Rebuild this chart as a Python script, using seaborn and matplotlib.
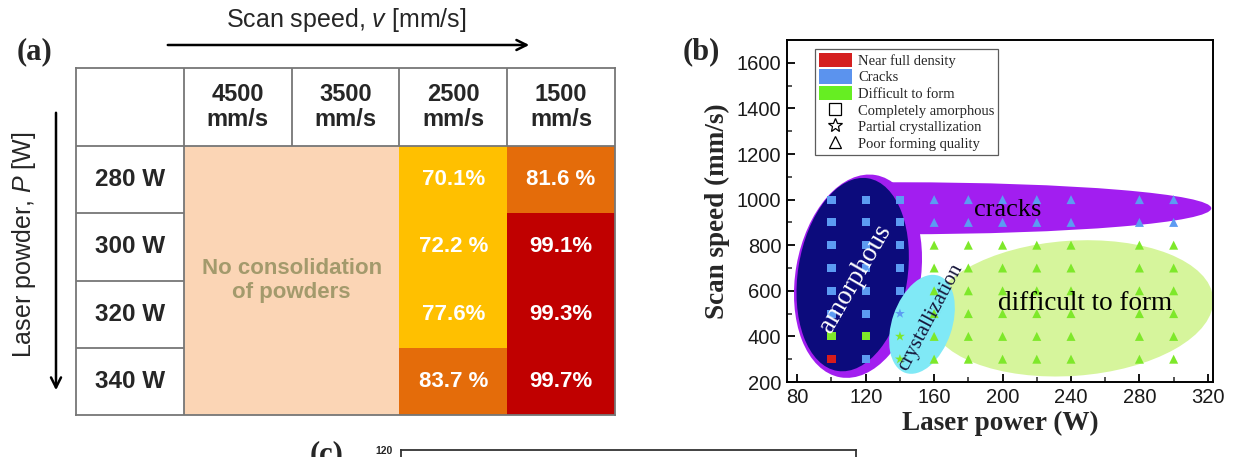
import numpy as np
import pandas as pd
import matplotlib
matplotlib.use("Agg")
import matplotlib.pyplot as plt
import seaborn as sns
from matplotlib.colors import ListedColormap, BoundaryNorm
from matplotlib.patches import Ellipse, Rectangle, Patch, FancyArrowPatch
from matplotlib.lines import Line2D
from matplotlib.transforms import Affine2D

# ---------------- data: panel (a) relative density table ----------------
laser_power = ["280 W", "300 W", "320 W", "340 W"]
scan_speed = ["4500\nmm/s", "3500\nmm/s", "2500\nmm/s", "1500\nmm/s"]
density_4500 = [np.nan, np.nan, np.nan, np.nan]
density_3500 = [np.nan, np.nan, np.nan, np.nan]
density_2500 = [70.1, 72.2, 77.6, 83.7]
density_1500 = [81.6, 99.1, 99.3, 99.7]
gap_2500 = ["", " ", "", " "]
gap_1500 = [" ", "", "", ""]
no_consolidation_text = "No consolidation\nof powders"

# ---------------- data: panel (b) process map ----------------
powers = [100, 120, 140, 160, 180, 200, 220, 240, 280, 300]
speeds = [1000, 900, 800, 700, 600, 500, 400, 300]
# outcome per speed (top to bottom): C = cracks, D = difficult to form, N = near full density
outcome_100 = "CCCCCCDN"
outcome_120 = "CCCCCCDC"
outcome_140 = "CCCCCCDD"
outcome_high = "CCDDDDDD"
# phase per speed: A = completely amorphous, P = partial crystallization, T = poor forming quality
phase_low = "AAAAAAAA"
phase_140 = "AAAAAPPP"
phase_high = "TTTTTTTT"

outcome_cols = [outcome_100, outcome_120, outcome_140] + [outcome_high] * 7
phase_cols = [phase_low, phase_low, phase_140] + [phase_high] * 7

rows = []
for p, oc, ph in zip(powers, outcome_cols, phase_cols):
    for s, o, f in zip(speeds, oc, ph):
        rows.append({"power": p, "speed": s, "outcome": o, "phase": f})
points = pd.DataFrame(rows)

# ---------------- style ----------------
sns.set_style("white")
plt.rcParams["font.family"] = ["Liberation Sans", "DejaVu Sans"]
plt.rcParams["mathtext.fontset"] = "custom"
plt.rcParams["mathtext.rm"] = "Liberation Sans"
plt.rcParams["mathtext.it"] = "Liberation Sans:italic"
plt.rcParams["mathtext.bf"] = "Liberation Sans:bold"

W, H = 1235, 457
fig = plt.figure(figsize=(W / 100, H / 100), dpi=100)
fig.patch.set_facecolor("white")


def fx(x):
    return x / W


def fy(y):
    return 1 - y / H


def box(left, top, right, bottom):
    return [fx(left), fy(bottom), fx(right) - fx(left), fy(top) - fy(bottom)]


SERIF = "Liberation Serif"
GOLD, ORANGE, RED, PEACH = "#ffc000", "#e46c0a", "#c00000", "#fbd5b5"
LINE = "#767676"

# ======================= panel (a) =======================
ax_a = fig.add_axes(box(76, 68, 615, 415))
grid = pd.DataFrame(
    {"": [np.nan] * 4, "4500": density_4500, "3500": density_3500,
     "2500": density_2500, "1500": density_1500},
    index=laser_power,
)
labels = grid.copy().astype(object)
labels[:] = ""
labels["2500"] = [f"{v:.1f}{g}%" for v, g in zip(density_2500, gap_2500)]
labels["1500"] = [f"{v:.1f}{g}%" for v, g in zip(density_1500, gap_1500)]

# unconsolidated cells
unconsolidated = pd.DataFrame(np.nan, index=grid.index, columns=grid.columns)
unconsolidated[["4500", "3500"]] = 1.0
sns.heatmap(unconsolidated, ax=ax_a, cmap=ListedColormap([PEACH]), cbar=False,
            linewidths=0)
# density classes
sns.heatmap(grid, ax=ax_a, cmap=ListedColormap([GOLD, ORANGE, RED]),
            norm=BoundaryNorm([0, 80, 95, 100], 3), cbar=False, linewidths=0,
            annot=labels.values, fmt="",
            annot_kws={"color": "white", "fontsize": 16, "fontweight": "bold"})

hdr = 78 / 67.25
ax_a.set_xlim(0, 5)
ax_a.set_ylim(4, -hdr)
ax_a.set_xticks([])
ax_a.set_yticks([])
ax_a.set_xlabel("")
ax_a.set_ylabel("")
for sp in ax_a.spines.values():
    sp.set_visible(True)
    sp.set_color(LINE)
    sp.set_linewidth(1.3)
ax_a.hlines(0, 0, 5, color=LINE, lw=1.3)
ax_a.hlines([1, 2, 3], 0, 1, color=LINE, lw=1.3)
ax_a.vlines(1, -hdr, 4, color=LINE, lw=1.3)
ax_a.vlines([2, 3, 4], -hdr, 0, color=LINE, lw=1.3)

for i, lab in enumerate(scan_speed):
    ax_a.text(i + 1.5, -hdr / 2, lab, ha="center", va="center", fontsize=17,
              fontweight="bold", linespacing=1.1)
for j, lab in enumerate(laser_power):
    ax_a.text(0.5, j + 0.5, lab, ha="center", va="center", fontsize=17.5,
              fontweight="bold")
ax_a.text(2.0, 2.0, no_consolidation_text, ha="center", va="center",
          fontsize=16, fontweight="bold", color="#a39a6c", linespacing=1.2)

fig.text(fx(346), fy(20), r"Scan speed, $\it{v}$ [mm/s]", ha="center",
         va="center", fontsize=18)
fig.text(fx(24), fy(245), r"Laser powder, $\it{P}$ [W]", ha="center",
         va="center", fontsize=18, rotation=90)
fig.add_artist(FancyArrowPatch((fx(165), fy(45)), (fx(532), fy(45)),
                               transform=fig.transFigure, arrowstyle="->",
                               mutation_scale=18, lw=1.8, color="black"))
fig.add_artist(FancyArrowPatch((fx(56), fy(110)), (fx(56), fy(393)),
                               transform=fig.transFigure, arrowstyle="->",
                               mutation_scale=18, lw=1.8, color="black"))
fig.text(fx(35), fy(52), "(a)", ha="center", va="center", fontsize=22,
         fontweight="bold", family=SERIF)

# ======================= panel (b) =======================
bl, bt, br, bb = 787, 40, 1213, 382
ax_b = fig.add_axes(box(bl, bt, br, bb))
xlim, ylim = (74, 323), (200, 1700)
ax_b.set_xlim(*xlim)
ax_b.set_ylim(*ylim)

# isotropic frame for drawing the region outlines
px_w = (br - bl) / (xlim[1] - xlim[0])
px_s = (bb - bt) / (ylim[1] - ylim[0])
S = px_w / px_s
iso = Affine2D().scale(1, S) + ax_b.transData


def region(cx, cy, major, minor, angle, color, z):
    e = Ellipse((cx, cy / S), major, minor, angle=angle, transform=iso,
                facecolor=color, edgecolor="none", zorder=z)
    ax_b.add_patch(e)
    return e


PURPLE, NAVY, CYAN, LIME = "#a21ef0", "#0c0b7c", "#80e9f6", "#d6f59c"
band_clip = Rectangle((128, 0), 300, 3000, transform=ax_b.transData)
band = Ellipse((140, 962), 364, 228, facecolor=PURPLE, edgecolor="none",
               zorder=1)
ax_b.add_patch(band)
band.set_clip_path(band_clip)
region(115.5, 664, 120, 73, 80, PURPLE, 1.1)
region(112.4, 671, 114, 64, 81, NAVY, 1.2)
region(240.3, 523, 166, 79, 4, LIME, 1.3)
region(152.9, 453, 60, 35, 71, CYAN, 1.4)

BLUE, GREEN, RED_PT = "#5c9bf2", "#7ee82a", "#d81c1c"
sns.scatterplot(data=points, x="power", y="speed", hue="outcome",
                style="phase", size="phase", ax=ax_b,
                palette={"C": BLUE, "D": GREEN, "N": RED_PT},
                markers={"A": "s", "P": "*", "T": "^"},
                sizes={"A": 34, "P": 55, "T": 42},
                linewidth=0, legend=False, zorder=5)

ax_b.text(203, 955, "cracks", family=SERIF, fontsize=19, ha="center",
          va="center", color="black", zorder=6)
ax_b.text(248, 545, "difficult to form", family=SERIF, fontsize=19.5,
          ha="center", va="center", color="black", zorder=6)
ax_b.text(114, 655, "amorphous", family=SERIF, fontsize=19.5, ha="center",
          va="center", color="white", rotation=60, zorder=6)
ax_b.text(158, 484, "crystallization", family=SERIF, fontsize=15,
          ha="center", va="center", color="#16163a", rotation=62, zorder=6)

ax_b.set_xticks(np.arange(80, 321, 40))
ax_b.set_xticks(np.arange(100, 321, 40), minor=True)
ax_b.set_yticks(np.arange(200, 1601, 200))
ax_b.set_yticks(np.arange(300, 1700, 200), minor=True)
ax_b.tick_params(axis="both", which="major", direction="in", length=6,
                 width=1.3, labelsize=14.5, colors="black", pad=4,
                 top=False, right=False)
ax_b.tick_params(axis="both", which="minor", direction="in", length=3.5,
                 width=1.1, top=False, right=False)
ax_b.tick_params(axis="both", which="both", bottom=True, left=True)
for lab in ax_b.get_xticklabels() + ax_b.get_yticklabels():
    lab.set_color("#1a1a1a")
for sp in ax_b.spines.values():
    sp.set_visible(True)
    sp.set_color("black")
    sp.set_linewidth(1.4)
ax_b.set_xlabel("Laser power (W)", family=SERIF, fontsize=19.5,
                fontweight="bold", labelpad=3)
ax_b.set_ylabel("Scan speed (mm/s)", family=SERIF, fontsize=19.5,
                fontweight="bold", labelpad=5)

handles = [
    Patch(facecolor="#d42020", edgecolor="none", label="Near full density"),
    Patch(facecolor="#5b93ee", edgecolor="none", label="Cracks"),
    Patch(facecolor="#66ee22", edgecolor="none", label="Difficult to form"),
    Line2D([], [], ls="none", marker="s", mfc="none", mec="black", ms=8,
           mew=0.9, label="Completely amorphous"),
    Line2D([], [], ls="none", marker="*", mfc="none", mec="black", ms=10,
           mew=0.9, label="Partial crystallization"),
    Line2D([], [], ls="none", marker="^", mfc="none", mec="black", ms=9,
           mew=0.9, label="Poor forming quality"),
]
leg = ax_b.legend(handles=handles, loc="upper left",
                  bbox_to_anchor=(28 / (br - bl), 1 - 9 / (bb - bt)),
                  borderaxespad=0, frameon=True, fancybox=False,
                  prop={"family": SERIF, "size": 10.5}, handlelength=2.3,
                  handleheight=1.15, labelspacing=0.1, borderpad=0.25,
                  handletextpad=0.4)
leg.get_frame().set_edgecolor("#333333")
leg.get_frame().set_linewidth(0.9)
leg.set_zorder(10)

fig.text(fx(701), fy(52), "(b)", ha="center", va="center", fontsize=22,
         fontweight="bold", family=SERIF)

# ======================= panel (c), top edge =======================
ax_c = fig.add_axes([fx(401), -0.6, fx(856) - fx(401), fy(450) + 0.6])
ax_c.set_xlim(0, 1)
ax_c.set_ylim(-40, 120)
ax_c.set_xticks([])
ax_c.set_yticks([120])
ax_c.set_yticklabels(["120"])
ax_c.tick_params(axis="y", direction="in", length=3, labelsize=7.5, pad=6)
for lab in ax_c.get_yticklabels():
    lab.set_fontweight("bold")
for sp in ax_c.spines.values():
    sp.set_visible(True)
    sp.set_color("#333333")
    sp.set_linewidth(1.3)
fig.text(fx(327), fy(440), "(c)", ha="center", va="top", fontsize=22,
         fontweight="bold", family=SERIF)

fig.savefig("out.png", dpi=100)
